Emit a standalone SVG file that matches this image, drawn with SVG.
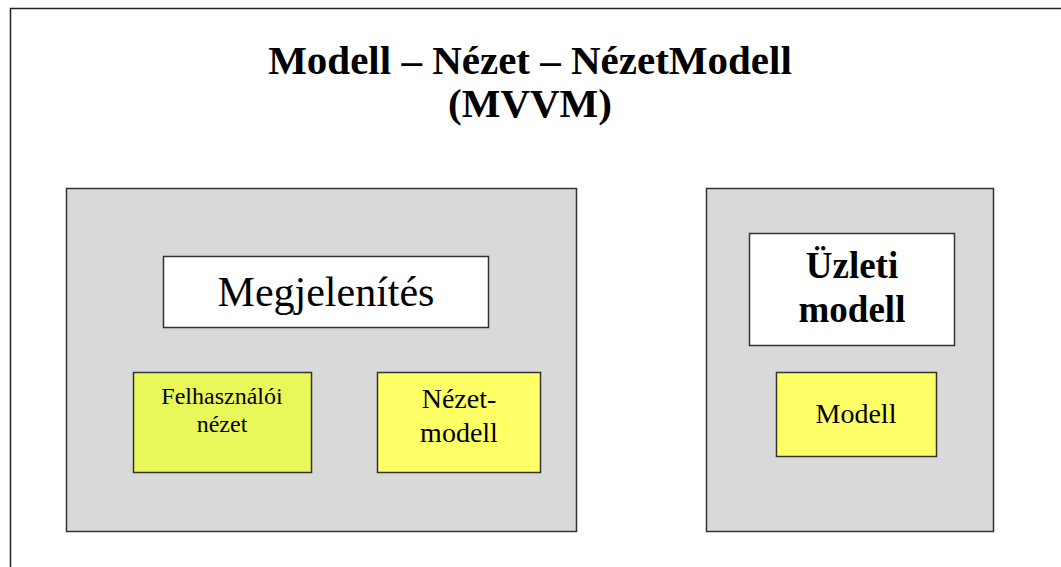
<svg xmlns="http://www.w3.org/2000/svg" width="1061" height="567" viewBox="0 0 1061 567">
<style>
.t{font-family:"Liberation Serif","Times New Roman",serif;fill:#000;text-anchor:middle}
.b{font-weight:bold}
.box{stroke:#333;stroke-width:1.5}
.grey{fill:#d9d9d9}
.white{fill:#fff}
.y1{fill:#e8f85a}
.y2{fill:#ffff66}
</style>
<rect x="0" y="0" width="1061" height="567" fill="#fff"/>
<path d="M10.5 567 V8.5 H1061" fill="none" stroke="#222" stroke-width="1.5"/>
<g id="title">
<text class="t b" x="530" y="74" font-size="41">Modell – Nézet – NézetModell</text>
<text class="t b" x="530" y="117" font-size="41">(MVVM)</text>
</g>
<g id="presentation">
<rect class="box grey" x="66.5" y="188.5" width="510" height="343"/>
</g>
<g id="business">
<rect class="box grey" x="706.5" y="188.5" width="287" height="343"/>
</g>
<g id="megjelenites">
<rect class="box white" x="163.5" y="256.5" width="325" height="71"/>
<text class="t" x="326" y="306" font-size="42">Megjelenítés</text>
</g>
<g id="felhasznaloi">
<rect class="box y1" x="133.5" y="372.5" width="178" height="100"/>
<text class="t" x="222" y="404" font-size="24">Felhasználói</text>
<text class="t" x="222" y="432" font-size="24">nézet</text>
</g>
<g id="nezetmodell">
<rect class="box y2" x="377.5" y="372.5" width="163" height="100"/>
<text class="t" x="459" y="408" font-size="28">Nézet-</text>
<text class="t" x="459" y="442" font-size="28">modell</text>
</g>
<g id="uzleti">
<rect class="box white" x="749.5" y="233.5" width="205" height="112"/>
<text class="t b" x="852" y="278" font-size="37">Üzleti</text>
<text class="t b" x="852" y="322" font-size="37">modell</text>
</g>
<g id="modell">
<rect class="box y2" x="776.5" y="372.5" width="160" height="84"/>
<text class="t" x="856" y="423" font-size="28">Modell</text>
</g>
<g id="connectors"></g>
</svg>
